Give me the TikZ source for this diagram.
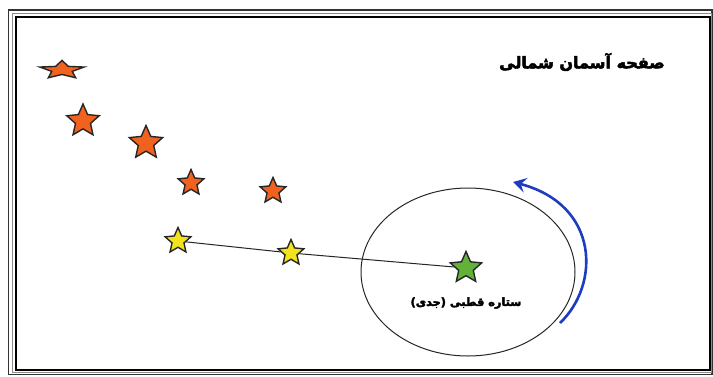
\documentclass[tikz,border=0pt]{standalone}
\usepackage{fontspec}
\usetikzlibrary{shapes.geometric,arrows.meta}
\newfontfamily\arabicfont[Script=Arabic, FakeBold=3]{DejaVu Sans Bold}
\TeXXeTstate=1
\definecolor{starorange}{HTML}{F0621E}
\definecolor{staryellow}{HTML}{F4E21C}
\definecolor{stargreen}{HTML}{62B23A}
\definecolor{arrowblue}{HTML}{1E3CC0}
\tikzset{
  starbox/.style={star, star points=5, star point ratio=2.15, draw=black!85, line width=1.4pt, inner sep=0pt, minimum size=#1},
  ostar/.style={starbox=#1, fill=starorange},
  ystar/.style={starbox=#1, fill=staryellow},
  gstar/.style={starbox=#1, fill=stargreen},
  lbl/.style={text=black, inner sep=0pt},
}
\begin{document}
\begin{tikzpicture}[x=1pt,y=-1pt]
\useasboundingbox (0,0) rectangle (713,376);
\fill[white] (0,0) rectangle (713,376);
% frame
\draw[black!80, line width=1.4pt] (8.5,10) rectangle (712,374.5);
\draw[black!45, line width=1pt] (12,13.5) rectangle (711,372);
\draw[black, line width=2pt] (15.5,17) rectangle (710,370);
% orbit
\node[ellipse, draw=black!85, line width=1pt, minimum width=214pt, minimum height=168pt, inner sep=0pt] (orbit) at (468,272) {};
% stars
\node[ostar=32pt, xscale=1.45, yscale=0.6, transform shape] (s1) at (62,70) {};
\node[ostar=34pt] (s2) at (83,121) {};
\node[ostar=35pt] (s3) at (146,143) {};
\node[ostar=27pt] (s4) at (191,183) {};
\node[ostar=27pt] (s5) at (273,191) {};
\node[ystar=27pt] (y1) at (178,241) {};
\node[ystar=27pt] (y2) at (291,253) {};
\node[gstar=33pt] (g) at (466,268) {};
\draw[black!85, line width=1pt] (y1) -- (y2) -- (g);
% labels
\node[lbl, font=\arabicfont\fontsize{11.3}{13}\selectfont] (polaris) at (466,303) {\beginR ستاره قطبی (جدی)\endR};
\node[lbl, font=\arabicfont\fontsize{16}{18}\selectfont] (title) at (582,62) {\beginR صفحه آسمان شمالی\endR};
% rotation arrow
\coordinate (a0) at (560,323);
\coordinate (a1) at (513,182);
\draw[arrowblue, line width=2.6pt, -{Stealth[length=13pt,width=15pt,inset=5pt]}] (a0) .. controls (600,285) and (600,205) .. (a1);
\end{tikzpicture}
\end{document}
